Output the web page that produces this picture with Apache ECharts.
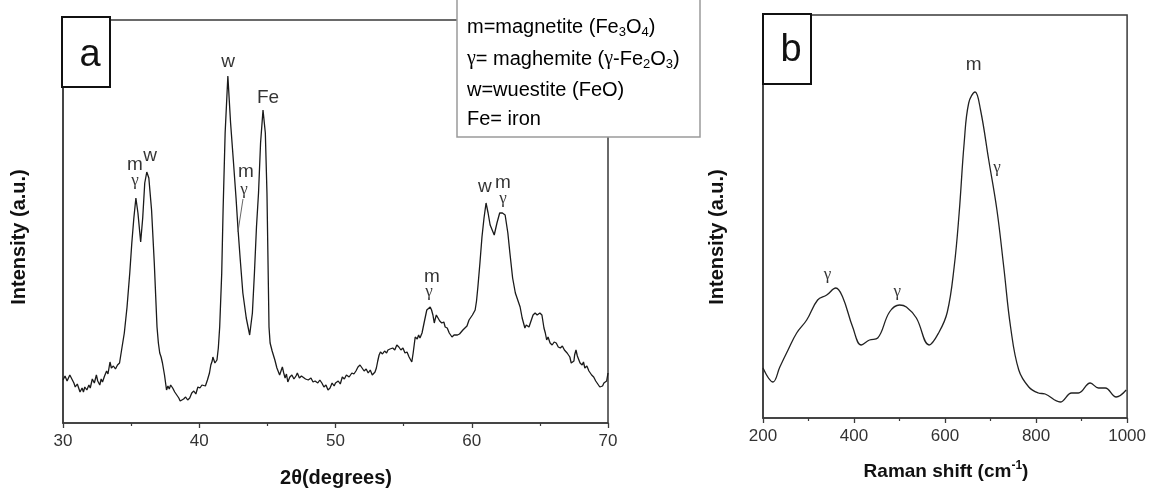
<!DOCTYPE html>
<html>
<head>
<meta charset="utf-8">
<script src="https://cdn.jsdelivr.net/npm/echarts@6/dist/echarts.min.js"></script>
<style>
html,body{margin:0;padding:0;background:#fff;}
#chart{width:1149px;height:491px;}
</style>
</head>
<body>
<div id="chart"></div>
<script>
// ---- Panel a: XRD pattern, [2theta (deg), intensity (a.u.)] ----
var xrdData = [
[30.0,43],[30.15,47],[30.3,42],[30.5,48],[30.65,44],[30.8,40],[30.9,36],[31.05,39],[31.25,31],[31.4,35],[31.5,31],[31.6,36],[31.75,33],[31.9,38],[32.0,35],[32.15,44],[32.3,40],[32.45,48],[32.55,42],[32.7,38],[32.8,44],[32.9,41],[33.05,47],[33.2,52],[33.3,49],[33.45,61],[33.55,55],[33.7,57],[33.85,54],[34.0,58],[34.15,60],
[34.3,73],[34.5,90],[34.7,116],[34.9,150],[35.05,180],[35.2,205],[35.35,225],[35.5,210],[35.7,181],[35.85,205],[36.0,240],[36.15,251],[36.3,245],[36.5,213],[36.7,160],
[36.9,96],[37.0,80],[37.1,70],[37.2,66],[37.3,60],[37.45,48],[37.6,33],[37.7,37],[37.8,34],[37.9,38],[38.05,35],[38.2,31],[38.35,28],[38.5,25],[38.6,22],[38.7,20],[38.85,24],[39.0,26],[39.15,23],[39.3,25],[39.45,30],[39.6,32],[39.75,29],[39.9,36],[40.05,35],[40.2,38],[40.3,40],[40.45,37],[40.6,43],[40.75,50],[40.85,58],[40.95,62],[41.0,66],[41.15,60],[41.3,63],[41.4,75],
[41.5,96],[41.65,150],[41.75,213],[41.9,290],[42.1,347],[42.3,300],[42.5,263],[42.7,225],[42.85,193],[43.0,165],[43.2,130],[43.45,105],[43.7,88],[43.9,110],[44.05,150],[44.2,196],[44.35,230],[44.5,280],[44.68,313],[44.85,290],[44.97,230],[45.12,96],
[45.2,80],[45.35,72],[45.55,63],[45.7,55],[45.9,48],[46.0,52],[46.1,56],[46.2,50],[46.3,45],[46.4,49],[46.5,41],[46.65,46],[46.8,48],[46.95,44],[47.1,47],[47.2,50],[47.35,45],[47.5,47],[47.6,45],[47.8,44],[48.0,43],[48.2,45],[48.35,41],[48.5,42],[48.7,40],[48.85,43],[49.0,40],[49.15,36],[49.3,38],[49.45,33],[49.6,35],[49.75,40],[49.9,37],[50.0,40],[50.2,42],[50.35,39],[50.5,46],[50.65,44],[50.8,48],[51.0,46],[51.2,50],[51.35,49],[51.5,52],[51.65,56],[51.8,58],[51.95,55],[52.1,52],[52.25,54],[52.4,50],[52.55,53],[52.7,48],[52.9,51],[53.0,55],[53.1,62],[53.2,68],[53.3,71],[53.45,69],[53.6,72],[53.75,70],[53.85,73],[54.0,74],[54.2,75],[54.35,73],[54.5,78],[54.65,76],[54.8,73],[54.95,75],[55.1,70],[55.25,71],[55.4,66],[55.5,68],[55.6,61],[55.7,70],[55.85,86],[56.0,84],[56.1,88],[56.2,85],[56.35,90],[56.5,100],[56.6,98],[56.7,113],[56.8,111],[56.95,116],[57.05,113],[57.15,108],[57.25,100],[57.3,103],[57.4,108],[57.5,106],[57.65,102],[57.8,100],[57.95,101],[58.05,96],[58.2,95],[58.35,90],[58.55,86],[58.7,88],[58.8,86],[58.95,88],[59.1,89],[59.2,90],[59.35,93],[59.5,95],[59.65,97],[59.8,103],[59.9,105],[60.05,108],[60.25,113],[60.35,122],
[60.45,136],[60.6,160],[60.75,186],[60.9,205],[61.05,220],[61.2,210],[61.35,198],[61.65,188],[61.85,200],[62.05,210],[62.25,210],[62.45,208],[62.65,190],[62.8,170],[63.0,145],[63.2,130],
[63.55,116],[63.7,105],[63.9,95],[64.0,98],[64.1,100],[64.2,96],[64.3,100],[64.4,104],[64.5,108],[64.6,106],[64.65,110],[64.8,108],[64.9,106],[65.0,110],[65.15,108],[65.3,95],[65.4,90],[65.5,83],[65.6,86],[65.75,80],[65.9,78],[66.05,81],[66.2,80],[66.35,76],[66.5,75],[66.65,77],[66.8,73],[66.9,74],[67.0,70],[67.2,66],[67.3,60],[67.4,58],[67.5,62],[67.55,68],[67.65,73],[67.75,67],[67.8,65],[67.95,60],[68.1,58],[68.2,61],[68.3,55],[68.45,57],[68.6,52],[68.7,53],[68.8,48],[68.95,46],[69.1,42],[69.25,39],[69.4,36],[69.5,38],[69.6,37],[69.7,40],[69.8,38],[69.9,42],[70.0,50]
];
var xrdTicks = [30, 40, 50, 60, 70];
// annotation labels: [text, 2theta, intensity]
var xrdLabels = [["m",35.28,258],["w",36.39,267],["w",42.11,361],["Fe",45.05,325],["m",43.43,251],["m",57.08,146],["w",60.97,236],["m",62.29,240]];
var xrdGamma = [[35.28,242],[43.28,233],[56.86,131],[62.29,224]];
var xrdLeader = [[43.21,224],[42.84,191]];

// ---- Panel b: Raman spectrum ----
var ramanShift = [200,222,237,255,274,296,320,340,360,375,397,416,434,452,478,500,515,537,565,587,605,620,631,642,652,666,678,696,714,729,744,762,784,805,820,853,878,893,919,937,952,976,998];
var ramanIntensity = [50,36,51,68,85,98,118,123,130,121,91,73,78,80,106,113,111,100,73,86,106,151,205,275,315,326,308,258,208,151,91,48,31,25,24,16,25,25,35,30,30,21,28];
var ramanTicks = [200, 400, 600, 800, 1000];
var ramanLabels = [["m",663,353]];
var ramanGamma = [[714,250],[342,143],[495,126]];

var chart = echarts.init(document.getElementById('chart'), null, {renderer:'canvas'});
var frameColor = '#3a3a3a';
var txt = '#000';
function zip(a,b){return a.map(function(v,i){return [v,b[i]];});}

function xAxisCfg(gi, ticks){
  var mn = ticks[0], mx = ticks[ticks.length-1], iv = ticks[1]-ticks[0];
  return {
    type:'value', gridIndex:gi, min:mn, max:mx, interval:iv,
    axisLine:{show:true, lineStyle:{color:frameColor, width:1.5}},
    axisTick:{show:true, inside:false, length:5, lineStyle:{color:frameColor, width:1.3}},
    minorTick:{show:true, splitNumber:2, length:3, lineStyle:{color:frameColor, width:1.2}},
    axisLabel:{show:true, margin:10, fontSize:17, color:'#333', fontFamily:'Liberation Sans',
      formatter:function(v){return String(v);}},
    splitLine:{show:false}, minorSplitLine:{show:false}
  };
}
function yAxisCfg(gi){
  return {type:'value', gridIndex:gi, min:0, max:403,
    axisLine:{show:true, lineStyle:{color:frameColor, width:1.5}},
    axisTick:{show:false}, axisLabel:{show:false}, splitLine:{show:false}};
}
function labelSeries(xi, arr, font, size){
  return {type:'scatter', xAxisIndex:xi, yAxisIndex:xi, symbolSize:0, silent:true, z:5,
    data: arr.map(function(d){return {name:d[0], value:[d[1],d[2]]};}),
    label:{show:true, position:'inside', formatter:'{b}', color:txt, fontSize:size, fontFamily:font, textBorderWidth:0}};
}
function gammaSeries(xi, arr, size){
  return {type:'scatter', xAxisIndex:xi, yAxisIndex:xi, symbolSize:0, silent:true, z:5,
    data: arr.map(function(d){return {name:'γ', value:d};}),
    label:{show:true, position:'inside', formatter:'γ', color:txt, fontSize:size, fontFamily:'Liberation Serif', textBorderWidth:0}};
}

var legendLines = [
  'm=magnetite (Fe{s|3}O{s|4})',
  '{g|γ}= maghemite ({g|γ}-Fe{s|2}O{s|3})',
  'w=wuestite (FeO)',
  'Fe= iron'
];
var legendY = [27, 59, 90, 119];
var richStyle = {
  s:{fontSize:13, fontFamily:'Liberation Sans', color:txt, verticalAlign:'bottom', lineHeight:12},
  g:{fontSize:20, fontFamily:'Liberation Serif', color:txt, lineHeight:24}
};

var graphics = [
  {type:'rect', shape:{x:457, y:-5, width:243, height:142}, style:{fill:'#fff', stroke:'#9a9a9a', lineWidth:1.5}, z:10},
  {type:'rect', shape:{x:62, y:17, width:48, height:70}, style:{fill:'#fff', stroke:'#111', lineWidth:2}, z:10},
  {type:'text', x:90, y:56, style:{text:'a', fontSize:38, fontFamily:'Liberation Sans', fill:'#111', align:'center', verticalAlign:'middle'}, z:11},
  {type:'rect', shape:{x:763, y:14, width:48, height:70}, style:{fill:'#fff', stroke:'#111', lineWidth:2}, z:10},
  {type:'text', x:791, y:51, style:{text:'b', fontSize:38, fontFamily:'Liberation Sans', fill:'#111', align:'center', verticalAlign:'middle'}, z:11},
  {type:'text', x:19, y:237, rotation:Math.PI/2, style:{text:'Intensity (a.u.)', fontSize:20, fontWeight:'bold', fontFamily:'Liberation Sans', fill:'#111', align:'center', verticalAlign:'middle'}, z:11},
  {type:'text', x:717, y:237, rotation:Math.PI/2, style:{text:'Intensity (a.u.)', fontSize:20, fontWeight:'bold', fontFamily:'Liberation Sans', fill:'#111', align:'center', verticalAlign:'middle'}, z:11},
  {type:'text', x:336, y:478, style:{text:'2θ(degrees)', fontSize:20, fontWeight:'bold', fontFamily:'Liberation Sans', fill:'#111', align:'center', verticalAlign:'middle'}, z:11},
  {type:'text', x:946, y:472, style:{rich:{n:{fontSize:19, fontWeight:'bold', fontFamily:'Liberation Sans', fill:'#111', lineHeight:24}, u:{fontSize:12, fontWeight:'bold', fontFamily:'Liberation Sans', fill:'#111', verticalAlign:'top', lineHeight:12}}, text:'{n|Raman shift (cm}{u|-1}{n|)}', align:'center', verticalAlign:'middle'}, z:11}
];
legendLines.forEach(function(t, i){
  graphics.push({type:'text', x:467, y:legendY[i], z:11,
    style:{text:t, rich:richStyle, fontSize:20, lineHeight:24, fontFamily:'Liberation Sans', fill:txt, verticalAlign:'middle'}});
});

var option = {
  backgroundColor:'#fff',
  animation:false,
  grid:[
    {left:63, top:20, right:541, bottom:68, show:true, borderColor:frameColor, borderWidth:1.5, backgroundColor:'transparent'},
    {left:763, top:15, right:20, bottom:73, show:true, borderColor:frameColor, borderWidth:1.5, backgroundColor:'transparent'}
  ],
  xAxis:[xAxisCfg(0, xrdTicks), xAxisCfg(1, ramanTicks)],
  yAxis:[yAxisCfg(0), yAxisCfg(1)],
  series:[
    {type:'line', xAxisIndex:0, yAxisIndex:0, data:xrdData, showSymbol:false, smooth:false,
      lineStyle:{color:'#1a1a1a', width:1.3}},
    {type:'line', xAxisIndex:0, yAxisIndex:0, data:xrdLeader, showSymbol:false, lineStyle:{color:'#555', width:0.9}},
    labelSeries(0, xrdLabels, 'Liberation Sans', 19),
    gammaSeries(0, xrdGamma, 17),
    {type:'line', xAxisIndex:1, yAxisIndex:1, data:zip(ramanShift,ramanIntensity), showSymbol:false, smooth:0.4,
      lineStyle:{color:'#222', width:1.3}},
    labelSeries(1, ramanLabels, 'Liberation Sans', 19),
    gammaSeries(1, ramanGamma, 17)
  ],
  graphic:graphics
};
chart.setOption(option);
</script>
</body>
</html>
